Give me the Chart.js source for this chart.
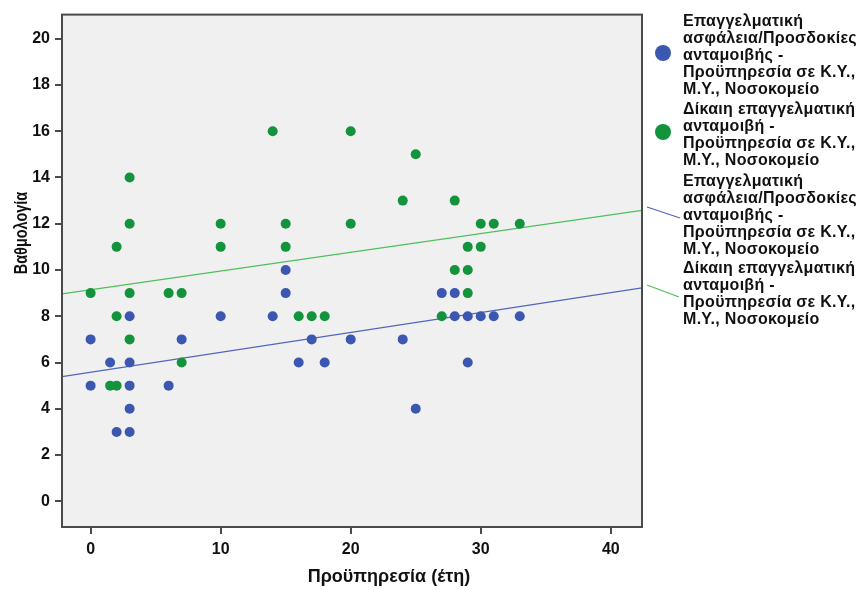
<!DOCTYPE html>
<html><head><meta charset="utf-8">
<script src="https://cdn.jsdelivr.net/npm/chart.js@4.4.0/dist/chart.umd.min.js"></script>
<style>
html,body{margin:0;padding:0;background:#fff;}
#wrap{position:relative;width:862px;height:590px;overflow:hidden;}
#c{position:absolute;left:0;top:0;}
.leg{position:absolute;left:683px;font:bold 16px "Liberation Sans",Arial,sans-serif;line-height:17px;color:#111;white-space:nowrap;letter-spacing:0.3px;}
.dot{position:absolute;width:16px;height:16px;border-radius:50%;}
#sym{position:absolute;left:0;top:0;}
</style></head>
<body><div id="wrap"><canvas id="c" width="862" height="590"></canvas>
<svg id="sym" width="862" height="590"></svg>
<div id="legend"></div></div>
<script>
// ---- data ----
const blueX = [0,0,1.5,2,3,3,3,3,3,6,7,10,14,15,15,16,17,18,20,24,25,27,28,28,29,29,30,31,33];
const blueY = [5,7,6,3,8,6,5,4,3,5,7,8,8,10,9,6,7,6,7,7,4,9,9,8,8,6,8,8,8];
const greenX = [0,1.5,2,2,2,3,3,3,3,6,7,7,10,10,14,15,15,16,17,18,20,20,24,25,27,28,28,29,29,29,30,30,31,33];
const greenY = [9,5,5,8,11,14,12,9,7,9,9,6,12,11,16,12,11,8,8,8,16,12,13,15,8,13,10,11,10,9,12,11,12,12];
const fitX = [-2.2, 42.4];
const blueFit = [5.39, 9.23];
const greenFit = [8.97, 12.58];
const xTicks = [0,10,20,30,40];
const yTicks = [0,2,4,6,8,10,12,14,16,18,20];
const xTitle = "Προϋπηρεσία (έτη)";
const yTitle = "Βαθμολογία";
const legendBlue = ["Επαγγελματική","ασφάλεια/Προσδοκίες","ανταμοιβής -","Προϋπηρεσία σε Κ.Υ.,","Μ.Υ., Νοσοκομείο"];
const legendGreen = ["Δίκαιη επαγγελματική","ανταμοιβή -","Προϋπηρεσία σε Κ.Υ.,","Μ.Υ., Νοσοκομείο"];

const BLUE = '#3b57b0', GREEN = '#13933b', BLUE_L = '#5066bb', GREEN_L = '#4fbf5a';
const FRAME = '#4a4a4a';
const FONT = '"Liberation Sans", Arial, sans-serif';

const pts = (xs, ys) => xs.map((x, i) => ({x, y: ys[i]}));

const framePlugin = {
  id: 'frame',
  beforeDraw(chart) {
    const a = chart.chartArea, ctx = chart.ctx;
    ctx.save(); ctx.fillStyle = '#f0f0f0';
    ctx.fillRect(a.left, a.top, a.right - a.left, a.bottom - a.top);
    ctx.restore();
  },
  afterDraw(chart) {
    const a = chart.chartArea, ctx = chart.ctx;
    ctx.save();
    ctx.strokeStyle = FRAME; ctx.lineWidth = 2;
    ctx.strokeRect(a.left, a.top, a.right - a.left, a.bottom - a.top);
    ctx.fillStyle = '#111';
    ctx.textAlign = 'center'; ctx.textBaseline = 'middle';
    ctx.font = 'bold 18px ' + FONT;
    ctx.fillText(xTitle, 389, 577);
    ctx.translate(22, 233); ctx.rotate(-Math.PI / 2); ctx.scale(0.76, 1);
    ctx.font = 'bold 19px ' + FONT;
    ctx.fillText(yTitle, 0, 0);
    ctx.restore();
  }
};

new Chart(document.getElementById('c'), {
  type: 'scatter',
  data: {
    datasets: [
      {data: pts(fitX, blueFit), showLine: true, borderColor: BLUE_L, borderWidth: 1.2, pointRadius: 0, order: 2},
      {data: pts(fitX, greenFit), showLine: true, borderColor: GREEN_L, borderWidth: 1.2, pointRadius: 0, order: 2},
      {data: pts(blueX, blueY), backgroundColor: BLUE, borderColor: BLUE, pointRadius: 5, borderWidth: 0, order: 1},
      {data: pts(greenX, greenY), backgroundColor: GREEN, borderColor: GREEN, pointRadius: 5, borderWidth: 0, order: 1}
    ]
  },
  options: {
    responsive: false, animation: false,
    layout: {padding: {left: 0, right: 220, top: 10, bottom: 0}},
    plugins: {legend: {display: false}, tooltip: {enabled: false}},
    scales: {
      x: {
        type: 'linear', min: -2.2, max: 42.4,
        afterBuildTicks: s => { s.ticks = xTicks.map(v => ({value: v})); },
        afterFit: s => { s.height = 63; },
        grid: {drawOnChartArea: false, drawTicks: true, tickLength: 7, color: FRAME, lineWidth: 2},
        border: {display: true, color: FRAME, width: 2},
        ticks: {font: {family: FONT, size: 16, weight: 'bold'}, color: '#111', padding: 6, maxRotation: 0}
      },
      y: {
        type: 'linear', min: -1.11, max: 21.04,
        afterBuildTicks: s => { s.ticks = yTicks.map(v => ({value: v})); },
        afterFit: s => { s.width = 62; },
        grid: {drawOnChartArea: false, drawTicks: true, tickLength: 7, color: FRAME, lineWidth: 2},
        border: {display: true, color: FRAME, width: 2},
        ticks: {font: {family: FONT, size: 16, weight: 'bold'}, color: '#111', padding: 5}
      }
    }
  },
  plugins: [framePlugin]
});

// ---- HTML legend ----
const leg = document.getElementById('legend');
function addText(lines, top) {
  const d = document.createElement('div');
  d.className = 'leg'; d.style.top = top + 'px';
  d.innerHTML = lines.join('<br>');
  leg.appendChild(d);
}
function addDot(color, cx, cy) {
  const d = document.createElement('div');
  d.className = 'dot'; d.style.background = color;
  d.style.left = (cx - 8) + 'px'; d.style.top = (cy - 8) + 'px';
  leg.appendChild(d);
}
addText(legendBlue, 12); addDot(BLUE, 663, 53);
addText(legendGreen, 100); addDot(GREEN, 663, 132);
addText(legendBlue, 172);
addText(legendGreen, 259);
const svg = document.getElementById('sym');
svg.innerHTML =
  '<line x1="647" y1="207" x2="680" y2="218" stroke="' + BLUE_L + '" stroke-width="1.3"/>' +
  '<line x1="647" y1="285" x2="679" y2="297" stroke="' + GREEN_L + '" stroke-width="1.3"/>';
</script>
</body></html>
